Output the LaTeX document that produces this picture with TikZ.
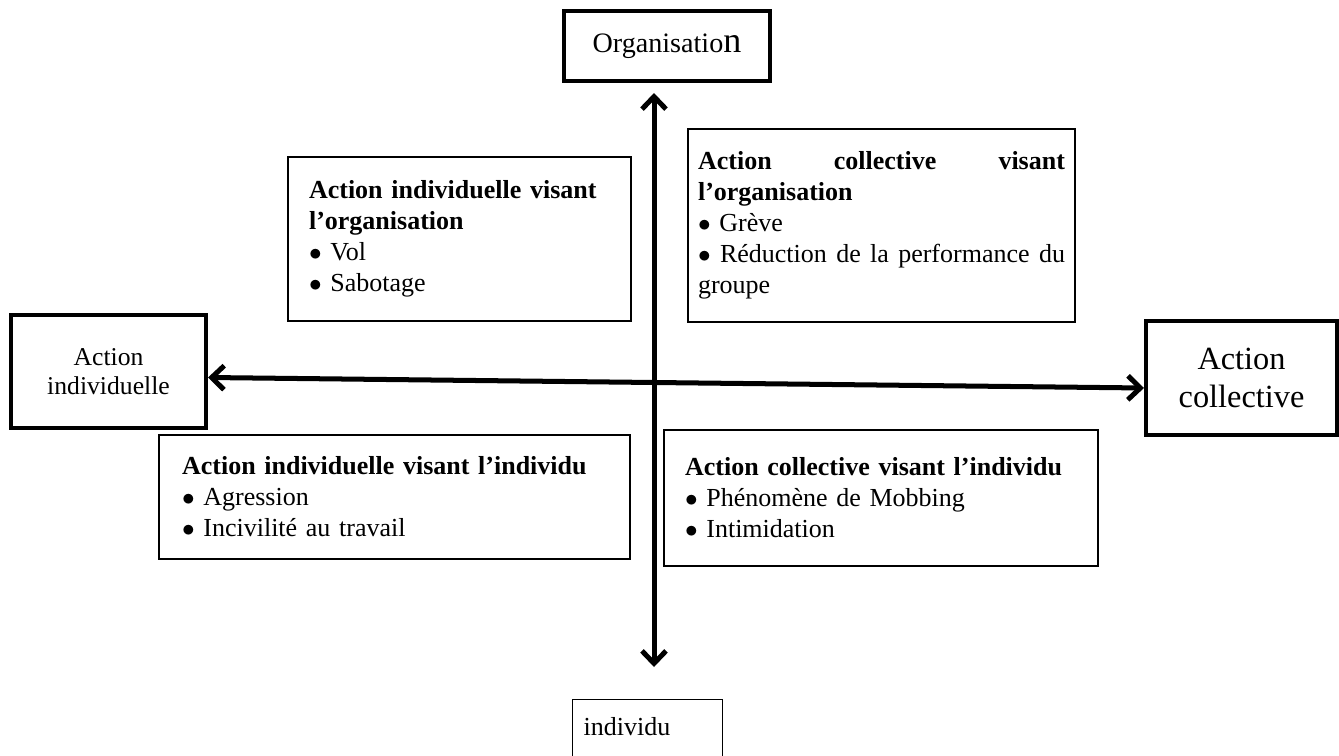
\documentclass[tikz,border=0pt]{standalone}
\usepackage{fontspec}
\setmainfont{Liberation Serif}
\usetikzlibrary{arrows.meta, positioning}

\newcommand{\puce}{$\bullet$}

\begin{document}
\begin{tikzpicture}[x=0.02cm, y=0.02cm,
  quad/.style={draw, rectangle, line width=0.7pt, align=left,
    inner xsep=0.42cm, inner ysep=0pt, font=\fontsize{14.8}{17.6}\selectfont},
  pole/.style={draw, rectangle, line width=2.3pt, align=center},
  axis/.style={line width=2.85pt, <->,
    >={Straight Barb[length=0.25cm, width=0.48cm]}}
]
\useasboundingbox (0,0) rectangle (1339,755);

% poles of the two axes
\node[pole, minimum width=4.12cm, minimum height=1.4cm,
  font=\fontsize{16}{18}\selectfont] (org) at (667,709)
  {Organisatio{\fontsize{20.5}{20}\selectfont n}};
\node[pole, minimum width=3.9cm, minimum height=2.26cm,
  font=\fontsize{14.6}{16.4}\selectfont] (indiv) at (108.5,383.5) {Action\\individuelle};
\node[pole, minimum width=3.82cm, minimum height=2.28cm,
  font=\fontsize{18.4}{21.5}\selectfont] (coll) at (1241.5,377) {Action\\collective};
\node[quad, text width=2.56cm, inner xsep=0.22cm, text height=0.72cm,
  text depth=1.1cm, anchor=north west] (indivbas) at (572,56) {individu};

% the four quadrants
\node[quad, text width=6.02cm, minimum height=3.28cm] (io) at (459.5,516)
  {\textbf{Action individuelle visant}\\ \textbf{l’organisation}\\
   \puce{} Vol\\ \puce{} Sabotage};
\node[quad, text width=7.34cm, minimum height=3.86cm, inner xsep=0.2cm] (co) at (881.5,529.5)
  {\textbf{Action}\hfill\textbf{collective}\hfill\textbf{visant}\\ \textbf{l’organisation}\\
   \puce{} Grève\\
   \puce\hfill Réduction\hfill de\hfill la\hfill performance\hfill du\\ groupe};
\node[quad, text width=8.5cm, minimum height=2.48cm, inner xsep=0.46cm] (ii) at (394.5,258)
  {\textbf{Action individuelle visant l’individu}\\
   \puce{} Agression\\ \puce{} Incivilité au travail};
\node[quad, text width=7.84cm, minimum height=2.72cm] (ci) at (881,257)
  {\textbf{Action collective visant l’individu}\\
   \puce{} Phénomène de Mobbing\\ \puce{} Intimidation};

% axes
\coordinate (vx) at (654,0);
\draw[axis] ([yshift=-0.2cm]org.south -| vx) -- ([yshift=0.64cm]indivbas.north -| vx);
\draw[axis] ([yshift=-0.12cm]indiv.east) -- ([yshift=-0.2cm]coll.west);
\end{tikzpicture}
\end{document}
